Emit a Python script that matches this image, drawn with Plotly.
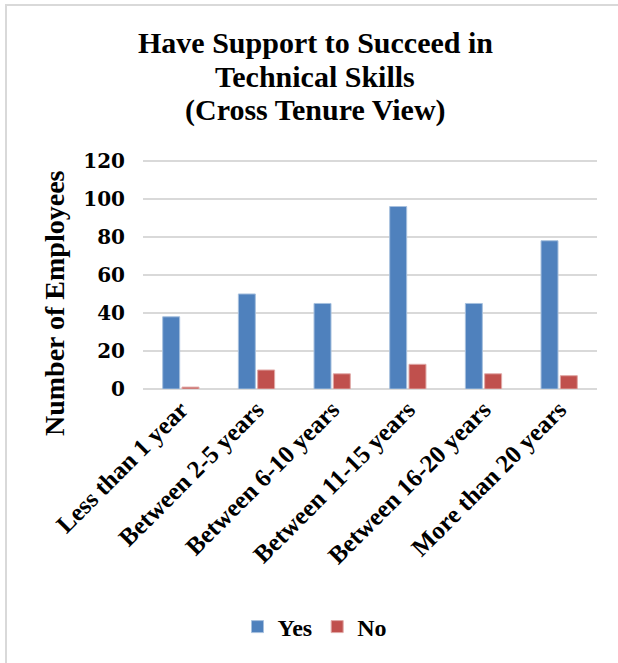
import plotly.graph_objects as go

categories = ["Less than 1 year", "Between 2-5 years", "Between 6-10 years",
              "Between 11-15 years", "Between 16-20 years", "More than 20 years"]
yes_counts = [38, 50, 45, 96, 45, 78]
no_counts = [1, 10, 8, 13, 8, 7]
y_ticks = [0, 20, 40, 60, 80, 100, 120]
title_lines = ["Have Support to Succeed in", "Technical Skills", "(Cross Tenure View)"]

FONT = "Liberation Serif"
NUM_FONT = "DejaVu Serif"
W, H = 618, 663
L, R, T, B = 143, 21, 159, 274
PLOT_W = W - L - R
PLOT_H = H - T - B


def px_x(px):
    """Pixel x -> paper x."""
    return (px - L) / PLOT_W


def px_y(py):
    """Pixel y (from top) -> paper y."""
    return (H - B - py) / PLOT_H


fig = go.Figure()
fig.add_trace(go.Bar(
    name="<b>Yes</b>", x=categories, y=yes_counts,
    marker=dict(color="#4F81BD", line=dict(color="#A7C0DE", width=1)),
))
fig.add_trace(go.Bar(
    name="<b>No</b>", x=categories, y=no_counts,
    marker=dict(color="#C0504D", line=dict(color="#E0A8A6", width=1)),
))

annotations = [
    dict(text="<b>%s</b>" % line, xref="paper", yref="paper",
         x=px_x(315), y=px_y(cy), xanchor="center", yanchor="middle",
         showarrow=False, font=dict(family=FONT, size=30, color="black"))
    for line, cy in zip(title_lines, [42, 76, 110])
]
annotations.append(dict(
    text="<b>Number of Employees</b>", textangle=-90,
    xref="paper", yref="paper", x=px_x(54), y=px_y(303),
    xanchor="center", yanchor="middle", showarrow=False,
    font=dict(family=FONT, size=28, color="black"),
))

fig.update_layout(
    width=W, height=H,
    margin=dict(l=L, r=R, t=T, b=B),
    paper_bgcolor="white", plot_bgcolor="white",
    barmode="group", bargap=0.49, bargroupgap=0.12,
    font=dict(family=FONT, color="black"),
    showlegend=True,
    legend=dict(
        orientation="h", x=px_x(315), xanchor="center", y=px_y(627), yanchor="middle",
        font=dict(family=FONT, size=24, color="black"),
        traceorder="normal",
    ),
    xaxis=dict(
        tickangle=-45, showgrid=False, showline=False, ticks="",
        tickvals=categories, ticktext=["<b>%s</b>" % c for c in categories],
        tickfont=dict(family=FONT, size=25, color="black"),
    ),
    yaxis=dict(
        range=[0, 121], tickvals=y_ticks,
        ticktext=["<b>%d</b>" % v for v in y_ticks],
        showgrid=True, gridcolor="#D9D9D9", gridwidth=2,
        zeroline=True, zerolinecolor="#D9D9D9", zerolinewidth=2,
        showline=False, ticks="", ticklabelstandoff=17,
        tickfont=dict(family=NUM_FONT, size=20, color="black"),
    ),
    annotations=annotations,
    shapes=[dict(
        type="rect", xref="paper", yref="paper",
        x0=px_x(6), x1=px_x(W + 10), y0=px_y(H + 10), y1=px_y(5),
        line=dict(color="#D9D9D9", width=2), layer="below",
    )],
)

fig.write_html("out.html")
